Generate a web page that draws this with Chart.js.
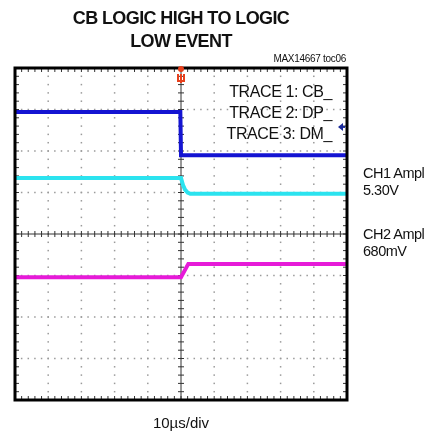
<!DOCTYPE html>
<html>
<head>
<meta charset="utf-8">
<script src="https://cdn.jsdelivr.net/npm/chart.js@4"></script>
<style>
  html, body { margin: 0; padding: 0; background: #fff; }
  #wrap { position: relative; width: 448px; height: 436px; font-family: "Liberation Sans", Arial, sans-serif; color: #111; }
  #wrap canvas { position: absolute; left: 0; top: 0; }
  .txt { position: absolute; white-space: nowrap; line-height: 1; }
  #title { left: 31px; width: 300px; top: 7px; text-align: center; font-weight: bold; font-size: 18px; line-height: 23px; letter-spacing: -0.6px; }
  #toc { right: 102px; top: 54px; font-size: 10px; letter-spacing: -0.3px; }
  #traces { right: 116px; top: 81px; text-align: right; font-size: 16px; line-height: 21px; letter-spacing: -0.4px; }
  .ampl { left: 363px; font-size: 14.5px; line-height: 17px; letter-spacing: -0.5px; }
  #xlabel { left: 131px; width: 100px; top: 415px; text-align: center; font-size: 15px; }
</style>
</head>
<body>
<div id="wrap">
  <canvas id="scope" width="448" height="436"></canvas>
  <div class="txt" id="title">CB LOGIC HIGH TO LOGIC<br>LOW EVENT</div>
  <div class="txt" id="toc">MAX14667 toc06</div>
  <div class="txt" id="traces">TRACE 1: CB_<br>TRACE 2: DP_<br>TRACE 3: DM_</div>
  <div class="txt ampl" style="top:165px">CH1 Ampl<br>5.30V</div>
  <div class="txt ampl" style="top:226px">CH2 Ampl<br>680mV</div>
  <div class="txt" id="xlabel">10µs/div</div>
</div>
<script>
// time in µs (10µs/div), level in screen divisions from centre
const ch1Time = [-50, -0.2, 0, 50];
const ch1Div = [2.94, 2.94, 1.90, 1.90];
const ch2Time = [-50, 0, 0.6, 1.2, 2.0, 2.8, 50];
const ch2Div = [1.35, 1.35, 1.18, 1.07, 1.0, 0.97, 0.97];
const ch3Time = [-50, 0, 2.2, 50];
const ch3Div = [-1.04, -1.04, -0.72, -0.72];
const triggerLevel = 2.58;

function pts(xs, ys) {
    return xs.map(function (x, i) { return { x: x, y: ys[i] }; });
}

const scopeGrid = {
    id: 'scopeGrid',
    beforeDatasetsDraw: function (chart) {
        const ctx = chart.ctx;
        const xs = chart.scales.x, ys = chart.scales.y;
        const a = chart.chartArea;
        ctx.save();
        // dotted division lines
        ctx.fillStyle = '#9a9a9a';
        for (let d = -40; d <= 40; d += 10) {
            if (d === 0) continue;
            const px = xs.getPixelForValue(d);
            for (let v = -4; v <= 4.001; v += 0.2) {
                ctx.fillRect(px - 0.75, ys.getPixelForValue(v) - 0.75, 1.5, 1.5);
            }
        }
        for (let v = -3; v <= 3; v += 1) {
            if (v === 0) continue;
            const py = ys.getPixelForValue(v);
            for (let t = -50; t <= 50.001; t += 2) {
                ctx.fillRect(xs.getPixelForValue(t) - 0.75, py - 0.75, 1.5, 1.5);
            }
        }
        // centre axes with minor ticks
        const cx = xs.getPixelForValue(0), cy = ys.getPixelForValue(0);
        ctx.strokeStyle = '#333';
        ctx.lineWidth = 1;
        ctx.beginPath();
        ctx.moveTo(a.left, cy); ctx.lineTo(a.right, cy);
        ctx.moveTo(cx, a.top); ctx.lineTo(cx, a.bottom);
        for (let t = -50; t <= 50.001; t += 2) {
            const px = xs.getPixelForValue(t);
            ctx.moveTo(px, cy - 3); ctx.lineTo(px, cy + 3);
            ctx.moveTo(px, a.top); ctx.lineTo(px, a.top + 4);
            ctx.moveTo(px, a.bottom); ctx.lineTo(px, a.bottom - 4);
        }
        for (let v = -4; v <= 4.001; v += 0.2) {
            const py = ys.getPixelForValue(v);
            ctx.moveTo(cx - 3, py); ctx.lineTo(cx + 3, py);
            ctx.moveTo(a.left, py); ctx.lineTo(a.left + 4, py);
            ctx.moveTo(a.right, py); ctx.lineTo(a.right - 4, py);
        }
        ctx.stroke();
        ctx.restore();
    },
    afterDatasetsDraw: function (chart) {
        const ctx = chart.ctx;
        const xs = chart.scales.x, ys = chart.scales.y;
        const a = chart.chartArea;
        ctx.save();
        // frame
        ctx.strokeStyle = '#000';
        ctx.lineWidth = 3;
        ctx.strokeRect(a.left, a.top, a.right - a.left, a.bottom - a.top);
        // trigger position marker
        const tx = xs.getPixelForValue(0);
        ctx.fillStyle = '#e8401c';
        ctx.beginPath();
        ctx.arc(tx, a.top + 1, 3, 0, Math.PI * 2);
        ctx.fill();
        ctx.strokeStyle = '#e8401c';
        ctx.lineWidth = 2;
        ctx.beginPath();
        ctx.moveTo(tx - 3, a.top + 6); ctx.lineTo(tx - 3, a.top + 13);
        ctx.lineTo(tx + 3, a.top + 13); ctx.lineTo(tx + 3, a.top + 6);
        ctx.moveTo(tx, a.top + 6); ctx.lineTo(tx, a.top + 15);
        ctx.stroke();
        // trigger level marker
        const ty = ys.getPixelForValue(triggerLevel);
        ctx.fillStyle = '#1a2a9a';
        ctx.beginPath();
        ctx.moveTo(a.right - 9, ty);
        ctx.lineTo(a.right - 4, ty - 4);
        ctx.lineTo(a.right - 4, ty + 4);
        ctx.closePath();
        ctx.fill();
        ctx.fillRect(a.right - 5, ty - 1, 3, 2);
        ctx.restore();
    }
};

const ctx = document.getElementById('scope').getContext('2d');
new Chart(ctx, {
    type: 'scatter',
    data: {
        datasets: [{
            label: 'CB_',
            data: pts(ch1Time, ch1Div),
            borderColor: '#1414d2',
            borderWidth: 4
        }, {
            label: 'DP_',
            data: pts(ch2Time, ch2Div),
            borderColor: '#2be3ef',
            borderWidth: 4
        }, {
            label: 'DM_',
            data: pts(ch3Time, ch3Div),
            borderColor: '#e61ad8',
            borderWidth: 4
        }]
    },
    options: {
        responsive: false,
        animation: false,
        devicePixelRatio: 1,
        showLine: true,
        elements: { point: { radius: 0 }, line: { tension: 0 } },
        layout: { padding: { left: 15, right: 101, top: 68, bottom: 36 } },
        scales: {
            x: { type: 'linear', min: -50, max: 50, display: false },
            y: { type: 'linear', min: -4, max: 4, display: false }
        },
        plugins: {
            legend: { display: false },
            tooltip: { enabled: false }
        }
    },
    plugins: [scopeGrid]
});
</script>
</body>
</html>
